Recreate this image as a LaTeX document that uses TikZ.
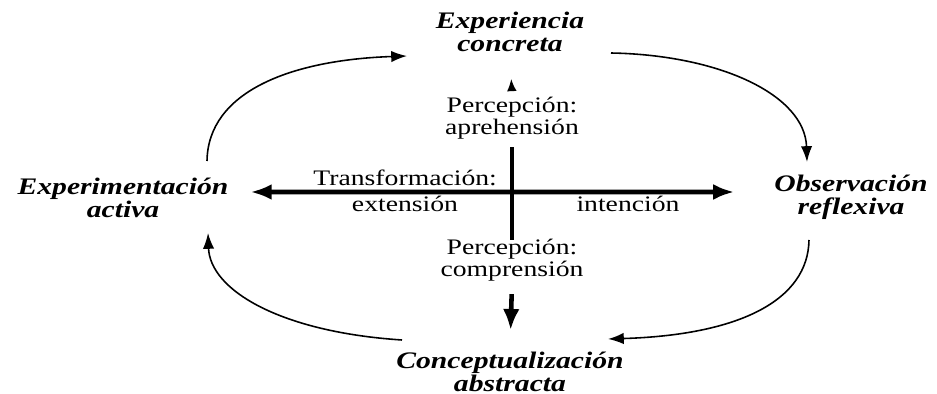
\documentclass[tikz,border=0pt]{standalone}
\usepackage{fontspec}
\setmainfont{Liberation Serif}
\newfontfamily\wideserif[FakeStretch=1.25]{Liberation Serif}
\usetikzlibrary{arrows.meta,positioning,calc}

\tikzset{
  stage/.style={font=\wideserif\bfseries\itshape\fontsize{13.5}{13}\selectfont, align=center, inner sep=1pt},
  axislbl/.style={font=\wideserif\fontsize{12.6}{11.2}\selectfont, align=center, inner sep=1pt},
  cyclearc/.style={line width=0.9pt, -{Latex[length=9pt,width=6.5pt]}},
  axisline/.style={line width=2.6pt},
}

\begin{document}
\begin{tikzpicture}[x=0.02cm, y=-0.02cm]
\useasboundingbox[fill=white] (0,0) rectangle (937,394);

% the four stages
\node[stage] (exp)  at (510,32)  {Experiencia\\concreta};
\node[stage] (act)  at (123,198) {Experimentación\\activa};
\node[stage] (obs)  at (851,197) {Observación\\reflexiva};
\node[stage] (conc) at (510,372) {Conceptualización\\abstracta};

% labels on the axes
\node[axislbl] (perc1) at (512,118) {Percepción:\\aprehensión};
\node[axislbl] (perc2) at (512,260) {Percepción:\\comprensión};
\node[axislbl, anchor=east] (trans) at (499,178) {Transformación:};
\node[axislbl] (ext)   at (405,204) {extensión};
\node[axislbl] (inten) at (628,204) {intención};

% ends of the outer arcs
\coordinate (act-top)   at (207,161);
\coordinate (exp-left)  at (407,56);
\coordinate (exp-right) at (611,53);
\coordinate (obs-top)   at (807,162);
\coordinate (obs-bot)   at (809,240);
\coordinate (conc-right) at (608,339);
\coordinate (conc-left) at (402,340);
\coordinate (act-bot)   at (208,233);

\draw[cyclearc] (act-top) .. controls (208,92) and (290,60) .. (exp-left);
\draw[cyclearc] (exp-right) .. controls (720,55) and (805,95) .. (obs-top);
\draw[cyclearc] (obs-bot) .. controls (808,300) and (740,335) .. (conc-right);
\draw[cyclearc] (conc-left) .. controls (280,332) and (210,290) .. (act-bot);

% axes
\draw[axisline, {Latex[length=12pt,width=9pt]}-{Latex[length=12pt,width=9pt]}, shorten <=0.4cm, shorten >=0.76cm]
  ([yshift=0.12cm]act.east) -- ([yshift=0.1cm]obs.west);
\draw[axisline, shorten <=0.12cm, shorten >=-0.06cm] (perc1.south) -- (perc2.north);
\draw[line width=1pt, -{Latex[length=7pt,width=5.5pt]}, shorten <=0.1cm, shorten >=0.5cm] (perc1.north) -- (exp.south);
\draw[axisline, -{Latex[length=12pt,width=9.5pt]}, shorten <=0.22cm, shorten >=0.4cm] (perc2.south) -- (conc.north);
\end{tikzpicture}
\end{document}
